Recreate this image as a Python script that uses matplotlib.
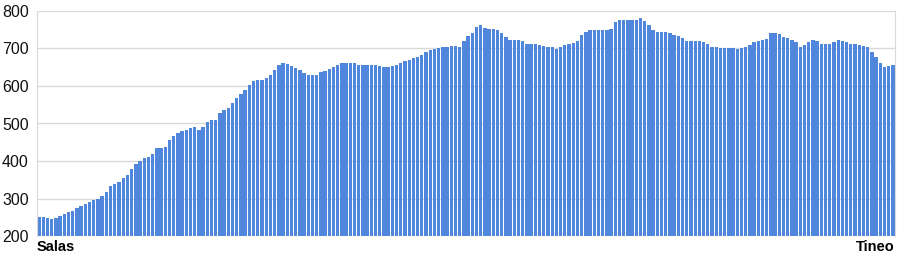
import numpy as np
import matplotlib
matplotlib.use('Agg')
import matplotlib.pyplot as plt

# elevation profile Salas -> Tineo (m), one value per bar
elevation = [
    250, 250, 249, 246, 248, 253, 258, 263, 268, 275,
    281, 286, 290, 295, 300, 308, 318, 334, 338, 345,
    355, 362, 380, 393, 400, 407, 410, 420, 436, 436,
    437, 455, 468, 476, 480, 482, 487, 490, 484, 492,
    505, 508, 510, 528, 536, 542, 555, 568, 578, 590,
    603, 612, 616, 617, 620, 630, 642, 655, 660, 658,
    653, 648, 643, 635, 630, 628, 630, 637, 640, 645,
    650, 656, 660, 662, 662, 661, 656, 655, 656, 657,
    655, 653, 651, 650, 652, 655, 660, 666, 670, 675,
    678, 682, 690, 697, 698, 700, 703, 705, 707, 706,
    705, 720, 732, 742, 758, 762, 754, 752, 752, 749,
    742, 730, 722, 722, 722, 720, 712, 713, 712, 708,
    706, 705, 705, 698, 703, 708, 711, 714, 720, 735,
    744, 748, 750, 750, 749, 750, 752, 770, 776, 776,
    776, 776, 776, 782, 774, 762, 750, 745, 745, 744,
    740, 736, 732, 727, 721, 720, 720, 720, 718, 712,
    703, 703, 702, 701, 700, 700, 698, 701, 704, 710,
    716, 720, 723, 726, 740, 742, 738, 730, 727, 722,
    716, 704, 708, 718, 722, 719, 713, 712, 712, 716,
    722, 719, 716, 713, 711, 709, 707, 703, 690, 677,
    660, 651, 652, 655,
]
start_label = 'Salas'
end_label = 'Tineo'
y_ticks = [200, 300, 400, 500, 600, 700, 800]

plt.rcParams['font.family'] = ['Liberation Sans', 'DejaVu Sans']

fig = plt.figure(figsize=(9, 2.6), dpi=100)
ax = fig.add_axes([0.0411, 0.0923, 0.9533, 0.8654])

x = np.arange(len(elevation))
ax.bar(x, np.array(elevation) - 200, bottom=200, width=0.8,
       color='#5087DD', linewidth=0, zorder=2)

ax.set_xlim(-0.5, len(elevation) - 0.5)
ax.set_ylim(200, 800)
ax.set_yticks(y_ticks)
ax.set_yticklabels([str(t) for t in y_ticks], fontsize=11.5, color='#111111')
ax.yaxis.grid(True, color='#d9d9d9', linewidth=1, zorder=0)
ax.set_axisbelow(True)

ax.set_xticks([-0.5, len(elevation) - 0.5])
labels = ax.set_xticklabels([start_label, end_label], fontsize=10.5,
                            fontweight='bold', color='black')
labels[0].set_ha('left')
labels[1].set_ha('right')

ax.tick_params(axis='both', length=0)
ax.tick_params(axis='y', pad=6)
ax.tick_params(axis='x', pad=3)

for side in ['left', 'right']:
    ax.spines[side].set_color('#d9d9d9')
ax.spines['top'].set_visible(False)
ax.spines['bottom'].set_visible(False)

fig.savefig('out.png', dpi=100)
